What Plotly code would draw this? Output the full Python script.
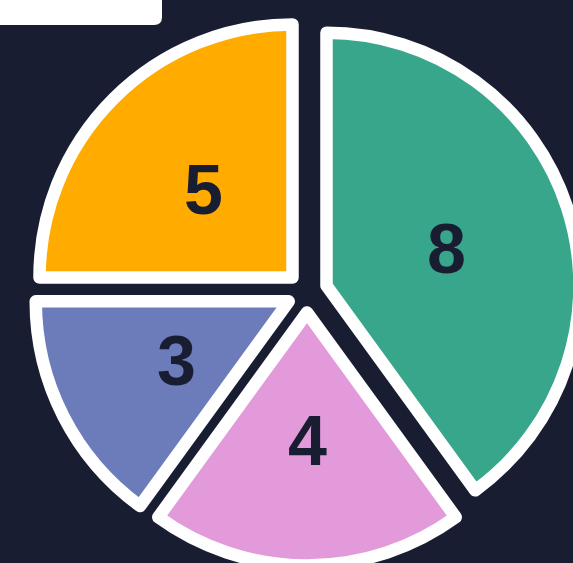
import math
import plotly.graph_objects as go

# ---- data ----
labels = ["A", "B", "C", "D"]
values = [8, 4, 3, 5]
colors = ["#38A68A", "#E29ADB", "#6C7BBA", "#FFAB00"]

# ---- style / layout constants ----
W, H = 600, 590          # canvas slightly larger than the view; the view crops it
BG = "#191d32"
CX, CY, R, PULL = 307, 292, 253, 20.5
LINE = 12.5
LABEL_FRAC = 0.5
CLEAR = "rgba(0,0,0,0)"

fig = go.Figure()
total = sum(values)
cum = 0
for i, v in enumerate(values):
    mid = (cum + v / 2) / total * 2 * math.pi
    cum += v
    cx = CX + PULL * math.sin(mid)
    cy = CY - PULL * math.cos(mid)
    r = min(R, cx, W - cx, cy, H - cy)
    fig.add_trace(go.Pie(
        labels=labels,
        values=values,
        sort=False,
        direction="clockwise",
        rotation=0,
        marker=dict(
            colors=[c if j == i else CLEAR for j, c in enumerate(colors)],
            line=dict(color=["white" if j == i else CLEAR for j in range(len(values))],
                      width=[LINE if j == i else 0 for j in range(len(values))]),
        ),
        textinfo="none",
        domain=dict(x=[(cx - r) / W, (cx + r) / W], y=[1 - (cy + r) / H, 1 - (cy - r) / H]),
        hoverinfo="skip",
        showlegend=False,
    ))
    # value label on the slice bisector
    tx = cx + LABEL_FRAC * r * math.sin(mid)
    ty = cy - LABEL_FRAC * r * math.cos(mid)
    fig.add_annotation(
        x=tx / W, y=1 - ty / H, xref="paper", yref="paper",
        text=str(v), showarrow=False, xanchor="center", yanchor="middle", yshift=-2,
        font=dict(size=70, color=BG, family="Liberation Sans, Arial, sans-serif", weight="bold"),
    )

# white box at top-left (partially visible panel)
bx, by, rad = 162 / W, 1 - 25 / H, 8
fig.add_shape(
    type="path",
    xref="paper", yref="paper",
    path=(f"M -0.05,1.05 L {bx},1.05 L {bx},{by + rad / H} "
          f"Q {bx},{by} {bx - rad / W},{by} L -0.05,{by} Z"),
    fillcolor="white",
    line=dict(width=0),
    layer="above",
)

fig.update_layout(
    width=W, height=H,
    margin=dict(l=0, r=0, t=0, b=0),
    paper_bgcolor=BG,
    plot_bgcolor=BG,
)

fig.write_html(
    "out.html",
    config={"displayModeBar": False},
    post_script=(
        "document.body.style.margin='0';"
        "document.body.style.overflow='hidden';"
        "document.documentElement.style.overflow='hidden';"
        "document.querySelectorAll('.slice path').forEach(function(p){p.style.strokeLinejoin='round';});"
    ),
)
